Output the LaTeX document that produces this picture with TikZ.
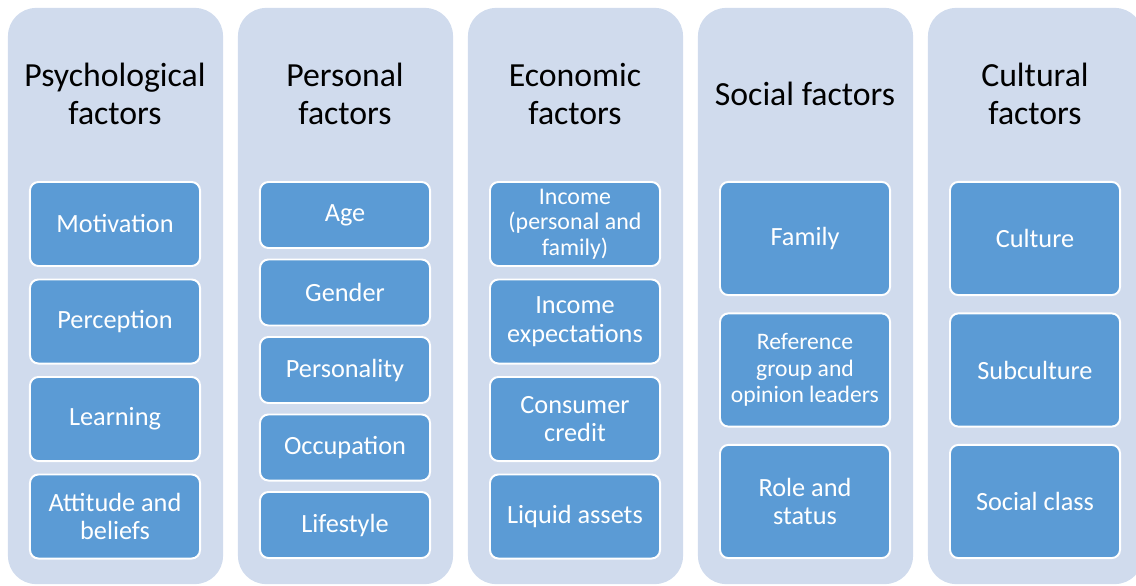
\documentclass[tikz,border=0pt]{standalone}
\usepackage{fontspec}
\setmainfont{Carlito}
\usepackage{tikz}
\usetikzlibrary{positioning}

\definecolor{colfill}{RGB}{208,219,237}
\definecolor{itemfill}{RGB}{91,155,213}

\tikzset{
	factorcol/.style={fill=colfill, rounded corners=20pt, minimum width=5.375cm, minimum height=14.4cm, inner sep=0pt},
	heading/.style={align=center, font=\fontsize{24}{26.5}\selectfont, text=black},
	item/.style={draw=white, line width=1.4pt, fill=itemfill, rounded corners=6pt, minimum width=4.25cm, align=center, text=white, inner sep=0pt, font=\fontsize{18.7}{20.3}\selectfont},
	itemS/.style={item, minimum height=1.65cm},
	itemM/.style={item, minimum height=2.1cm},
	itemL/.style={item, minimum height=2.83cm}
}

\begin{document}
\begin{tikzpicture}
	[x=0.025cm, y=-0.025cm]
	\useasboundingbox (0,0) rectangle (1136,585);
	\clip (0,0) rectangle (1136,585);
	% the five columns
	\node[factorcol] (psy) at (115.5,296) {};
	\node[factorcol] (per) at (345.5,296) {};
	\node[factorcol] (eco) at (575.5,296) {};
	\node[factorcol] (soc) at (805.5,296) {};
	\node[factorcol] (cul) at (1035.5,296) {};
	% headings
	\node[heading] (psyhead) at (115,94) {Psychological\\factors};
	\node[heading] (perhead) at (345,94) {Personal\\factors};
	\node[heading] (ecohead) at (575,94) {Economic\\factors};
	\node[heading] (sochead) at (805,94) {Social factors};
	\node[heading] (culhead) at (1035,94) {Cultural\\factors};
	% psychological
	\node[itemM] (motiv) at (115,224) {Motivation};
	\node[itemM] (percep) at (115,321.5) {Perception};
	\node[itemM] (learn) at (115,419) {Learning};
	\node[itemM] (attit) at (115,516.5) {Attitude and\\beliefs};
	% personal
	\node[itemS] (age) at (345,215) {Age};
	\node[itemS] (gender) at (345,292.5) {Gender};
	\node[itemS] (pers) at (345,370) {Personality};
	\node[itemS] (occup) at (345,447.5) {Occupation};
	\node[itemS] (life) at (345,525) {Lifestyle};
	% economic
	\node[itemM, font=\fontsize{17}{18}\selectfont] (income) at (575,224) {Income\\(personal and\\family)};
	\node[itemM] (incexp) at (575,321.5) {Income\\expectations};
	\node[itemM] (credit) at (575,419) {Consumer\\credit};
	\node[itemM] (assets) at (575,516.5) {Liquid assets};
	% social
	\node[itemL] (family) at (805,238.5) {Family};
	\node[itemL, font=\fontsize{16.8}{19}\selectfont] (refgrp) at (805,370) {Reference\\group and\\opinion leaders};
	\node[itemL] (role) at (805,501.5) {Role and\\status};
	% cultural
	\node[itemL] (culture) at (1035,238.5) {Culture};
	\node[itemL] (subcul) at (1035,370) {Subculture};
	\node[itemL] (class) at (1035,501.5) {Social class};
\end{tikzpicture}
\end{document}
